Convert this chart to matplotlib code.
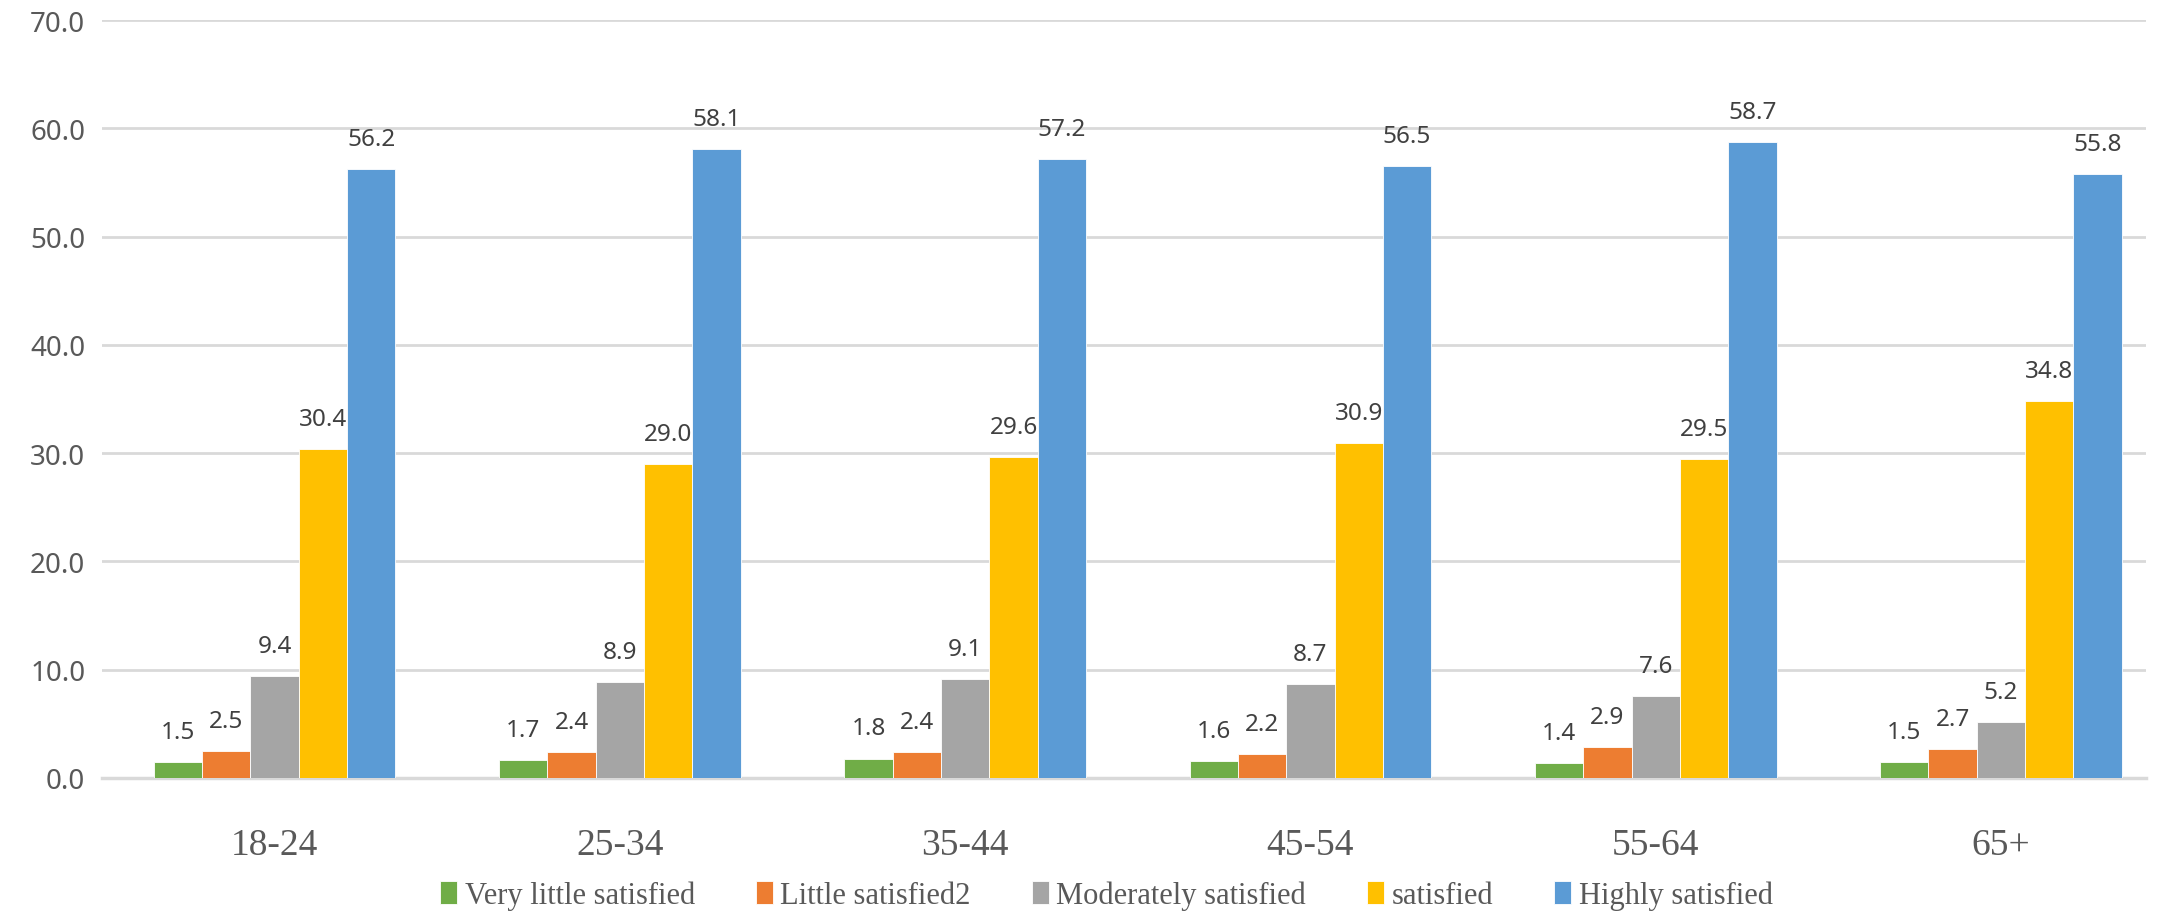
import numpy as np
import matplotlib
matplotlib.use('Agg')
import matplotlib.pyplot as plt

# ---------------------------------------------------------------------------
# Data
# ---------------------------------------------------------------------------
AGE_GROUPS = ['18-24', '25-34', '35-44', '45-54', '55-64', '65+']
SERIES_NAMES = ['Very little satisfied', 'Little satisfied2', 'Moderately satisfied',
                'satisfied', 'Highly satisfied']
VERY_LITTLE = [1.5, 1.7, 1.8, 1.6, 1.4, 1.5]
LITTLE = [2.5, 2.4, 2.4, 2.2, 2.9, 2.7]
MODERATELY = [9.4, 8.9, 9.1, 8.7, 7.6, 5.2]
SATISFIED = [30.4, 29.0, 29.6, 30.9, 29.5, 34.8]
HIGHLY = [56.2, 58.1, 57.2, 56.5, 58.7, 55.8]

COLORS = ['#70AD47', '#ED7D31', '#A5A5A5', '#FFC000', '#5B9BD5']
TEXT_COLOR = '#595959'
GRID_COLOR = '#D9D9D9'


def main():
    fig = plt.figure(figsize=(21.74, 9.12), dpi=100)
    ax = fig.add_axes([102 / 2174, 1 - 779 / 912, (2146 - 102) / 2174, (779 - 21) / 912])

    series = [VERY_LITTLE, LITTLE, MODERATELY, SATISFIED, HIGHLY]
    x = np.arange(len(AGE_GROUPS))
    width = 0.14
    offsets = (np.arange(len(series)) - 2) * width

    for vals, name, color, off in zip(series, SERIES_NAMES, COLORS, offsets):
        bars = ax.bar(x + off, vals, width, color=color, label=name,
                      edgecolor='white', linewidth=0.6, zorder=3)
        for b, v in zip(bars, vals):
            ax.annotate(f'{v:.1f}', (b.get_x() + b.get_width() / 2, v),
                        xytext=(0, 13), textcoords='offset points',
                        ha='center', va='bottom', fontsize=17.5,
                        family='Noto Sans', color='#404040')

    ax.set_ylim(0, 70)
    ax.set_xlim(-0.5, 5.42)
    ax.set_yticks(np.arange(0, 71, 10))
    ax.set_yticklabels([f'{t:.1f}' for t in np.arange(0, 71, 10)],
                       family='Noto Sans', fontsize=20, color=TEXT_COLOR)
    ax.set_xticks(x)
    ax.set_xticklabels(AGE_GROUPS, family='Liberation Serif', fontsize=27,
                       color=TEXT_COLOR)
    ax.tick_params(axis='both', length=0)
    ax.tick_params(axis='y', pad=12)
    ax.tick_params(axis='x', pad=36)

    ax.yaxis.grid(True, color=GRID_COLOR, linewidth=2, zorder=0)
    for side in ['top', 'right', 'left']:
        ax.spines[side].set_visible(False)
    ax.spines['bottom'].set_color(GRID_COLOR)
    ax.spines['bottom'].set_linewidth(2.5)

    leg = fig.legend(loc='center', bbox_to_anchor=(0.509, 0.017), ncol=5,
                     frameon=False, prop={'family': 'Liberation Serif', 'size': 22},
                     handlelength=0.55, handleheight=0.8, handletextpad=0.25,
                     columnspacing=2.0)
    for t in leg.get_texts():
        t.set_color(TEXT_COLOR)

    fig.savefig('out.png', dpi=100)
    plt.close(fig)


if __name__ == '__main__':
    main()
